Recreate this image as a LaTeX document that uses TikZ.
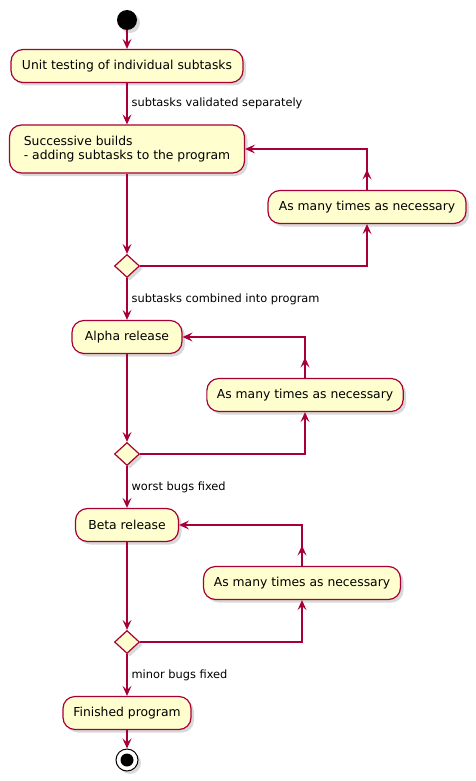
\documentclass[tikz,border=0pt]{standalone}
\usepackage{fontspec}
\setmainfont{DejaVu Sans}
\usetikzlibrary{shapes.geometric, arrows.meta, shadows, calc}

\definecolor{umlred}{HTML}{A80036}
\definecolor{umlfill}{HTML}{FEFECE}

\begin{document}
\begin{tikzpicture}[x=1pt, y=-1pt,
		act/.style={draw=umlred, fill=umlfill, line width=1.2pt, rounded corners=12pt,
			minimum height=33pt, inner xsep=10pt, font=\fontsize{12.35pt}{14.5pt}\selectfont,
			drop shadow={shadow xshift=3pt, shadow yshift=-3pt, opacity=0.3}},
		decision/.style={diamond, draw=umlred, fill=umlfill, line width=1.2pt, inner sep=0pt,
			minimum width=25pt, minimum height=23pt,
			drop shadow={shadow xshift=3pt, shadow yshift=-3pt, opacity=0.3}},
		flow/.style={draw=umlred, line width=1.2pt,
			-{Stealth[length=10pt, width=9pt, inset=4pt]}},
		lbl/.style={right, inner sep=4pt, font=\fontsize{11.4pt}{13pt}\selectfont}]

		\useasboundingbox (0,0) rectangle (476,781);

		% Start and main activities
		\node[circle, fill=black, minimum size=20pt, inner sep=0pt,
			drop shadow={shadow xshift=3pt, shadow yshift=-3pt, opacity=0.3}] (start) at (127,20) {};
		\node[act, minimum width=232pt] (unit) at (127,66) {Unit testing of individual subtasks};
		\node[act, minimum width=235pt, minimum height=48pt, align=left] (build) at (127,149)
			{Successive builds\\- adding subtasks to the program};
		\node[decision] (d1) at (127,266) {};
		\node[act, minimum width=110pt] (alpha) at (127,337) {Alpha release};
		\node[decision] (d2) at (127,454) {};
		\node[act, minimum width=103pt] (beta) at (127,525) {Beta release};
		\node[decision] (d3) at (127,642) {};
		\node[act, minimum width=128pt] (final) at (127,713) {Finished program};
		\node[circle, draw, fill=white, line width=1pt, minimum size=22pt, inner sep=0pt,
			drop shadow={shadow xshift=3pt, shadow yshift=-3pt, opacity=0.3}] (stop) at (127,760) {};
		\fill (stop.center) circle (6.5pt);

		% Repeat boxes
		\node[act, minimum width=198pt] (rep1) at (367,207) {As many times as necessary};
		\node[act, minimum width=196pt] (rep2) at (305,395) {As many times as necessary};
		\node[act, minimum width=197pt] (rep3) at (302,583) {As many times as necessary};

		% Main flow
		\draw[flow] (start) -- (unit);
		\draw[flow] (unit) -- node[lbl] {subtasks validated separately} (build);
		\draw[flow] (build) -- (d1);
		\draw[flow] (d1) -- node[lbl] {subtasks combined into program} (alpha);
		\draw[flow] (alpha) -- (d2);
		\draw[flow] (d2) -- node[lbl] {worst bugs fixed} (beta);
		\draw[flow] (beta) -- (d3);
		\draw[flow] (d3) -- node[lbl] {minor bugs fixed} (final);
		\draw[flow] (final) -- (stop);

		% Loops back, with an arrow half way up
		\coordinate (m1) at ($(rep1.north)!0.5!(rep1.north |- build.east)$);
		\coordinate (m2) at ($(rep2.north)!0.5!(rep2.north |- alpha.east)$);
		\coordinate (m3) at ($(rep3.north)!0.5!(rep3.north |- beta.east)$);
		\draw[flow] (d1.east) -| (rep1.south);
		\draw[flow] (rep1.north) |- (build.east);
		\draw[flow] (rep1.north) -- (m1);
		\draw[flow] (d2.east) -| (rep2.south);
		\draw[flow] (rep2.north) |- (alpha.east);
		\draw[flow] (rep2.north) -- (m2);
		\draw[flow] (d3.east) -| (rep3.south);
		\draw[flow] (rep3.north) |- (beta.east);
		\draw[flow] (rep3.north) -- (m3);

	\end{tikzpicture}
\end{document}
